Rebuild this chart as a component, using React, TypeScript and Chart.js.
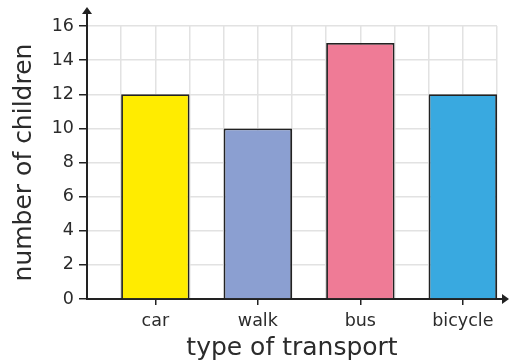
import React, { useEffect, useRef } from 'react';
import { Chart, registerables } from 'chart.js';

Chart.register(...registerables);

const categories = ['car', 'walk', 'bus', 'bicycle'];
const counts = [12, 10, 15, 12];
const barColors = ['#FFEC00', '#8B9FD1', '#EF7B96', '#39A9E0'];
const yMax = 16;
const yStep = 2;
const unitsPerCategory = 3; // grid squares per category slot (1 gap + 2 bar)
const xTitle = 'type of transport';
const yTitle = 'number of children';

const FONT = "'DejaVu Sans', 'Open Sans', sans-serif";
const DARK = '#222222';
const GRID = '#e2e2e2';
const TEXT = '#2b2b2b';

export default function App() {
  const ref = useRef<HTMLCanvasElement | null>(null);

  useEffect(() => {
    if (!ref.current) return;
    const labelPos = categories.map((_, i) => i * unitsPerCategory + unitsPerCategory - 1);

    const arrows = {
      id: 'arrows',
      afterDraw(chart: any) {
        const { ctx, chartArea: a } = chart;
        ctx.save();
        ctx.strokeStyle = DARK;
        ctx.fillStyle = DARK;
        ctx.lineWidth = 2;
        ctx.beginPath();
        ctx.moveTo(a.left, a.top);
        ctx.lineTo(a.left, a.top - 14);
        ctx.moveTo(a.right, a.bottom);
        ctx.lineTo(a.right + 6, a.bottom);
        ctx.stroke();
        ctx.beginPath();
        ctx.moveTo(a.left, a.top - 19);
        ctx.lineTo(a.left - 5, a.top - 12);
        ctx.lineTo(a.left + 5, a.top - 12);
        ctx.closePath();
        ctx.fill();
        ctx.beginPath();
        ctx.moveTo(a.right + 12, a.bottom);
        ctx.lineTo(a.right + 5, a.bottom - 5);
        ctx.lineTo(a.right + 5, a.bottom + 5);
        ctx.closePath();
        ctx.fill();
        ctx.restore();
      },
    };

    const chart = new Chart(ref.current, {
      type: 'bar',
      data: {
        datasets: [
          {
            data: counts.map((v, i) => ({ x: labelPos[i], y: v })),
            backgroundColor: barColors,
            borderColor: DARK,
            borderWidth: 1.8,
            categoryPercentage: 1,
            barPercentage: 2,
          } as any,
        ],
      },
      options: {
        animation: false,
        responsive: false,
        maintainAspectRatio: false,
        layout: { padding: { top: 26, right: 12, left: 0, bottom: 0 } },
        plugins: { legend: { display: false }, tooltip: { enabled: false } },
        scales: {
          x: {
            type: 'linear',
            min: 0,
            max: categories.length * unitsPerCategory,
            offset: false,
            afterBuildTicks: (scale: any) => {
              const t = [];
              for (let v = 0; v <= categories.length * unitsPerCategory; v++) t.push({ value: v });
              scale.ticks = t;
            },
            afterFit: (scale: any) => {
              scale.height = 64;
            },
            grid: {
              offset: false,
              color: GRID,
              lineWidth: 1.5,
              drawTicks: true,
              tickLength: 6,
              tickColor: (ctx: any) =>
                ctx.tick && labelPos.includes(ctx.tick.value) ? DARK : 'rgba(0,0,0,0)',
              tickWidth: 1.5,
            },
            border: { color: DARK, width: 2 },
            ticks: {
              autoSkip: false,
              maxRotation: 0,
              padding: 6,
              color: TEXT,
              font: { family: FONT, size: 17.5 },
              callback: (v: any) => {
                const i = labelPos.indexOf(Number(v));
                return i >= 0 ? categories[i] : '';
              },
            },
            title: {
              display: true,
              text: xTitle,
              color: TEXT,
              font: { family: FONT, size: 25 },
              padding: { top: 0, bottom: 0 },
            },
          },
          y: {
            min: 0,
            max: yMax,
            afterFit: (scale: any) => {
              scale.width = 87;
            },
            grid: {
              color: GRID,
              lineWidth: 1.5,
              tickLength: 8,
              tickColor: DARK,
              tickWidth: 1.5,
            },
            border: { color: DARK, width: 2 },
            ticks: {
              stepSize: yStep,
              padding: 5,
              color: TEXT,
              font: { family: FONT, size: 17.5 },
            },
            title: {
              display: true,
              text: yTitle,
              color: TEXT,
              font: { family: FONT, size: 25 },
              padding: { top: 9, bottom: 0 },
            },
          },
        },
      },
      plugins: [arrows],
    } as any);

    return () => chart.destroy();
  }, []);

  return (
    <div style={{ position: 'fixed', left: 0, top: 0, width: 509, height: 363, background: '#fff' }}>
      <canvas ref={ref} width={509} height={363} style={{ width: 509, height: 363 }} />
    </div>
  );
}
